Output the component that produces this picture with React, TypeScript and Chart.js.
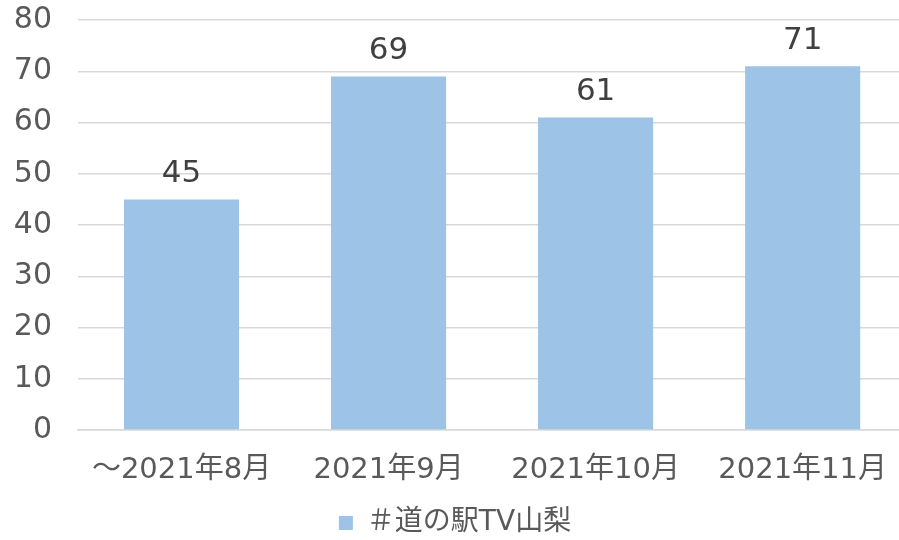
import React, { useEffect, useRef } from "react";
import { Chart, registerables } from "chart.js";

Chart.register(...registerables);

const categories = ["～2021年8月", "2021年9月", "2021年10月", "2021年11月"];
const seriesName = "＃道の駅TV山梨";
const values = [45, 69, 61, 71];
const yTicks = [0, 10, 20, 30, 40, 50, 60, 70, 80];

const FONT = "'DejaVu Sans', 'Noto Sans CJK JP', sans-serif";
const BAR = "#9DC3E6";

const dataLabels = {
  id: "dataLabels",
  afterDatasetsDraw(chart: any) {
    const ctx = chart.ctx;
    const meta = chart.getDatasetMeta(0);
    ctx.save();
    ctx.font = `31px ${FONT}`;
    ctx.fillStyle = "#404040";
    ctx.textAlign = "center";
    ctx.textBaseline = "alphabetic";
    meta.data.forEach((el: any, i: number) => {
      ctx.fillText(String(chart.data.datasets[0].data[i]), el.x, el.y - 17);
    });
    ctx.restore();
  },
};

export default function App() {
  const ref = useRef<HTMLCanvasElement>(null);
  useEffect(() => {
    const chart = new Chart(ref.current!, {
      type: "bar",
      data: {
        labels: categories,
        datasets: [
          {
            label: seriesName,
            data: values,
            backgroundColor: BAR,
            categoryPercentage: 1,
            barPercentage: 0.556,
          },
        ],
      },
      options: {
        responsive: false,
        animation: false,
        layout: { padding: { top: 20, left: 0, right: 0, bottom: -7 } },
        plugins: {
          tooltip: { enabled: false },
          legend: {
            position: "bottom",
            labels: {
              font: { family: FONT, size: 28 },
              color: "#595959",
              boxWidth: 14,
              boxHeight: 14,
              padding: 4,
            },
          },
        },
        scales: {
          x: {
            grid: { display: false, drawTicks: false },
            border: { display: true, color: "#d9d9d9", width: 1.5 },
            afterFit: (scale: any) => {
              scale.height = 75;
            },
            ticks: {
              font: { family: FONT, size: 29 },
              color: "#595959",
              padding: 23,
              maxRotation: 0,
              autoSkip: false,
            },
          },
          y: {
            min: 0,
            max: 80,
            afterBuildTicks: (scale: any) => {
              scale.ticks = yTicks.map((v) => ({ value: v }));
            },
            afterFit: (scale: any) => {
              scale.width = 78;
              scale.paddingTop = 0;
              scale.paddingBottom = 0;
            },
            grid: { color: "#d9d9d9", lineWidth: 1.5, drawTicks: false },
            border: { display: false },
            ticks: {
              font: { family: FONT, size: 30 },
              color: "#595959",
              padding: 26,
            },
          },
        },
      },
      plugins: [dataLabels],
    });
    return () => chart.destroy();
  }, []);
  return (
    <div style={{ position: "fixed", left: 0, top: 0, width: 899, height: 540, overflow: "hidden", background: "#fff" }}>
      <canvas ref={ref} width={910} height={540} />
    </div>
  );
}
